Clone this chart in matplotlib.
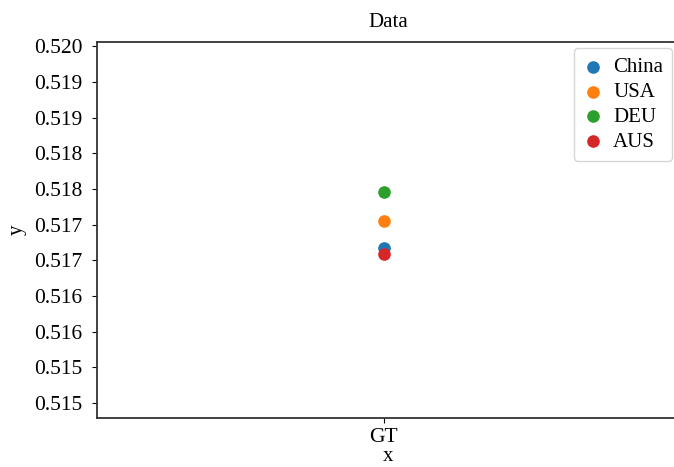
import matplotlib
matplotlib.use("Agg")
import matplotlib.pyplot as plt

plt.rcParams['font.family'] = ['Liberation Serif', 'DejaVu Serif']

# data
categories = ["GT"]
countries = ["China", "USA", "DEU", "AUS"]
values = {
    "China": [0.51717],
    "USA": [0.51755],
    "DEU": [0.51796],
    "AUS": [0.51709],
}
colors = ["#1f77b4", "#ff7f0e", "#2ca02c", "#d62728"]

ytick_vals = [0.5150, 0.5155, 0.5160, 0.5165, 0.5170, 0.5175,
              0.5180, 0.5185, 0.5190, 0.5195, 0.5200]
ytick_labels = ["0.515", "0.515", "0.516", "0.516", "0.517", "0.517",
                "0.518", "0.518", "0.519", "0.519", "0.520"]

fig = plt.figure(figsize=(6.74, 4.67), dpi=100)
ax = fig.add_axes([0.144, 0.105, 0.863, 0.805])

for name, c in zip(countries, colors):
    ax.scatter(categories, values[name], s=65, color=c, label=name, zorder=3)

ax.set_xlim(-1.0, 1.03)
ax.set_ylim(0.51479, 0.52006)
ax.set_yticks(ytick_vals)
ax.set_yticklabels(ytick_labels)
ax.tick_params(axis='y', labelsize=15.5, pad=7)
ax.tick_params(axis='x', labelsize=15.5, pad=4)
for s in ax.spines.values():
    s.set_color("#333333")
    s.set_linewidth(1.3)
ax.spines['right'].set_visible(False)

ax.set_title("Data", fontsize=15, pad=11)
ax.set_xlabel("x", fontsize=15, labelpad=0)
ax.set_ylabel("y", fontsize=15, labelpad=5)
ax.legend(loc="upper right", fontsize=15, handlelength=1.0, handletextpad=0.45,
          borderpad=0.45, labelspacing=0.25, borderaxespad=0.3)

fig.savefig("out.png", dpi=100)
